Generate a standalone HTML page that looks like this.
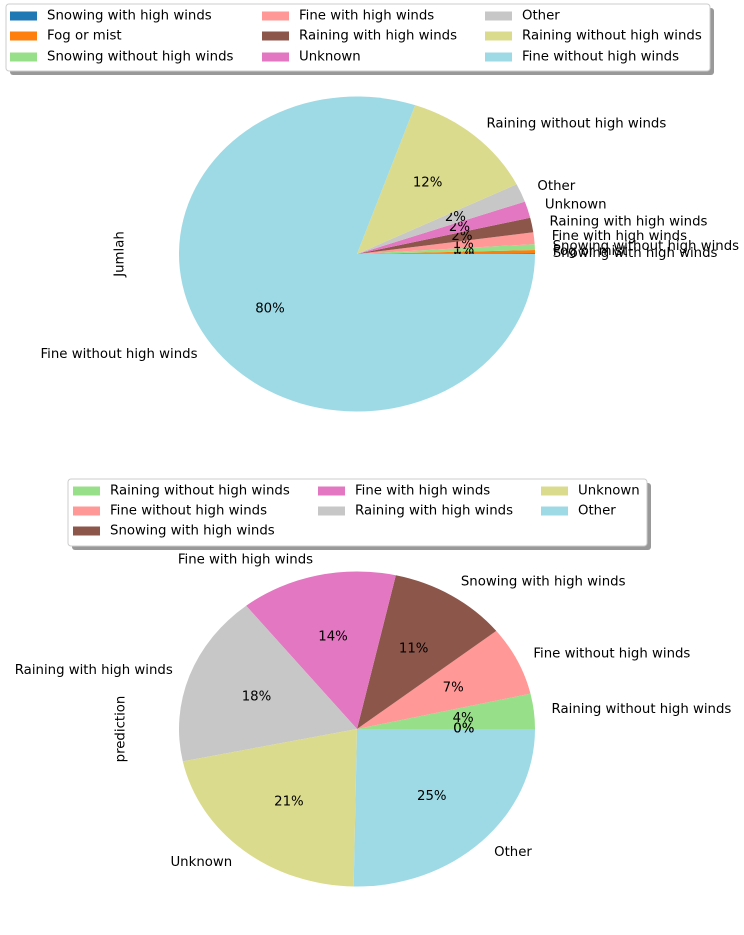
<!DOCTYPE html>
<html><head><meta charset="utf-8">
<style>
html,body{margin:0;padding:0;background:#fff;}
svg{display:block;font-family:"DejaVu Sans","Liberation Sans",sans-serif;font-size:13.3px;}
</style></head>
<body>
<svg id="chart" width="744" height="935" viewBox="0 0 744 935">
  <g id="topPie"></g>
  <g id="bottomPie"></g>
</svg>
<script>
// Top pie data
const topCategories = ["Snowing with high winds","Fog or mist","Snowing without high winds","Fine with high winds","Raining with high winds","Unknown","Other","Raining without high winds","Fine without high winds"];
const topValues = [0.05,0.35,0.6,1.2,1.5,1.7,1.9,12.4,80.3];
const topColors = ["#1f77b4","#ff7f0e","#98df8a","#ff9896","#8c564b","#e377c2","#c7c7c7","#dbdb8d","#9edae5"];
// Bottom pie data
const botCategories = ["Raining without high winds","Fine without high winds","Snowing with high winds","Fine with high winds","Raining with high winds","Unknown","Other","",""];
const botValues = [3.6,7.1,10.8,14.2,17.6,21.4,25.3,0,0];
const botColors = ["#98df8a","#ff9896","#8c564b","#e377c2","#c7c7c7","#dbdb8d","#9edae5","#1f77b4","#ff7f0e"];
const botLegendCats = ["Raining without high winds","Fine without high winds","Snowing with high winds","Fine with high winds","Raining with high winds","Unknown","Other"];

const NS="http://www.w3.org/2000/svg";
function mk(tag,attrs,parent){const e=document.createElementNS(NS,tag);for(const k in attrs)e.setAttribute(k,attrs[k]);parent.appendChild(e);return e;}

function drawPie(g,cats,vals,colors,cx,cy,rx,ry,ylabel,ylx){
  const total=vals.reduce((a,b)=>a+b,0);
  let a0=0;
  const px=(a,f)=>cx+f*rx*Math.cos(a*Math.PI/180);
  const py=(a,f)=>cy-f*ry*Math.sin(a*Math.PI/180);
  vals.forEach((v,i)=>{
    const sweep=v/total*360, a1=a0+sweep;
    if(sweep>0){
      const large=sweep>180?1:0;
      const p=mk("path",{d:`M${cx},${cy} L${px(a0,1)},${py(a0,1)} A${rx},${ry} 0 ${large} 0 ${px(a1,1)},${py(a1,1)} Z`,fill:colors[i]},g);
      
      
    }
    const mid=(a0+a1)/2;
    if(cats[i]){
      const lx=px(mid,1.1), ly=py(mid,1.1);
      const t=mk("text",{x:lx,y:ly,"dominant-baseline":"central","text-anchor":lx>=cx?"start":"end",fill:"#000"},g);
      t.textContent=cats[i];
      
      
    }
    const t2=mk("text",{x:px(mid,0.6),y:py(mid,0.6),"dominant-baseline":"central","text-anchor":"middle",fill:"#000"},g);
    t2.textContent=Math.round(v/total*100)+"%";
    
    
    a0=a1;
  });
  const yl=mk("text",{x:ylx,y:cy,transform:`rotate(-90 ${ylx} ${cy})`,"text-anchor":"middle","dominant-baseline":"central"},g);
  yl.textContent=ylabel;
  
  
}

function drawLegend(g,cats,colors,box,cols,rows,colCounts){
  const lg=mk("g",{},g);
  
  
  mk("rect",{x:box[0]+4,y:box[1]+4,width:box[2],height:box[3],rx:3,fill:"#999"},lg);
  mk("rect",{x:box[0],y:box[1],width:box[2],height:box[3],rx:3,fill:"#fff",stroke:"#ccc"},lg);
  let col=0,row=0;
  cats.forEach((c,i)=>{
    if(row>=colCounts[col]){col++;row=0;}
    const e=mk("g",{},lg);
    
    
    mk("rect",{x:cols[col],y:rows[row]-4.5,width:27,height:9,fill:colors[i]},e);
    const t=mk("text",{x:cols[col]+37,y:rows[row],"dominant-baseline":"central"},e);
    t.textContent=c;
    row++;
  });
}

const topG=document.getElementById("topPie"), botG=document.getElementById("bottomPie");
drawPie(topG,topCategories,topValues,topColors,357,254,178,157.5,"Jumlah",120);
drawLegend(topG,topCategories,topColors,[6,4,704,67],[10,262,485],[16,36,57],[3,3,3]);
drawPie(botG,botCategories,botValues,botColors,357,729,178,157.5,"prediction",121);
drawLegend(botG,botLegendCats,botColors,[68,479,579,67],[73,318,541],[491,511,531],[3,2,2]);
</script>
</body></html>
